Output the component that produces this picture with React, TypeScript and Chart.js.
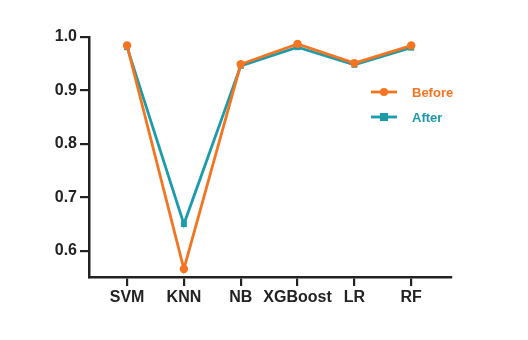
import React, { useEffect, useRef } from "react";
import { Chart, registerables } from "chart.js";

Chart.register(...registerables);

const categories = ["SVM", "KNN", "NB", "XGBoost", "LR", "RF"];
const beforeValues = [0.984, 0.566, 0.949, 0.987, 0.951, 0.984];
const afterValues = [0.981, 0.65, 0.946, 0.981, 0.948, 0.98];
const yTicks = [0.6, 0.7, 0.8, 0.9, 1.0];
const seriesNames = ["Before", "After"];

const ORANGE = "#F47521";
const TEAL = "#1C9BAB";
const AXIS = "#222222";
const FONT = "'Liberation Sans', Arial, sans-serif";

const legendPlugin = {
  id: "customLegend",
  afterDraw(chart: any) {
    const ctx = chart.ctx;
    const items = [
      { label: seriesNames[0], color: ORANGE, shape: "circle" },
      { label: seriesNames[1], color: TEAL, shape: "square" },
    ];
    const x0 = 371;
    const y0 = 92;
    const gap = 25;
    ctx.save();
    items.forEach((it, i) => {
      const y = y0 + i * gap;
      ctx.strokeStyle = it.color;
      ctx.fillStyle = it.color;
      ctx.lineWidth = 2.8;
      ctx.beginPath();
      ctx.moveTo(x0, y);
      ctx.lineTo(x0 + 26, y);
      ctx.stroke();
      const cx = x0 + 13;
      if (it.shape === "circle") {
        ctx.beginPath();
        ctx.arc(cx, y, 4, 0, Math.PI * 2);
        ctx.fill();
      } else {
        ctx.fillRect(cx - 4, y - 4, 8, 8);
      }
      ctx.font = `bold 13px ${FONT}`;
      ctx.textBaseline = "middle";
      ctx.textAlign = "left";
      ctx.fillText(it.label, x0 + 41, y + 1);
    });
    ctx.restore();
  },
};

export default function App() {
  const ref = useRef<HTMLCanvasElement>(null);
  useEffect(() => {
    if (!ref.current) return;
    const chart = new Chart(ref.current, {
      type: "line",
      data: {
        datasets: [
          {
            label: seriesNames[0],
            data: beforeValues.map((v, i) => ({ x: i, y: v })),
            borderColor: ORANGE,
            backgroundColor: ORANGE,
            borderWidth: 2.8,
            pointStyle: "circle",
            pointRadius: 4.2,
            pointBorderWidth: 0,
            pointBackgroundColor: ORANGE,
            clip: false as any,
          },
          {
            label: seriesNames[1],
            data: afterValues.map((v, i) => ({ x: i, y: v })),
            borderColor: TEAL,
            backgroundColor: TEAL,
            borderWidth: 2.8,
            pointStyle: "rect",
            pointRadius: 4.2,
            pointBorderWidth: 0,
            pointBackgroundColor: TEAL,
            clip: false as any,
          },
        ],
      },
      options: {
        animation: false,
        responsive: false,
        maintainAspectRatio: false,
        layout: { padding: { left: 0, top: 37, right: 77, bottom: 0 } },
        plugins: { legend: { display: false }, tooltip: { enabled: false } },
        scales: {
          x: {
            type: "linear",
            min: -0.67,
            max: 5.7,
            afterBuildTicks: (s: any) => {
              s.ticks = categories.map((_, i) => ({ value: i }));
            },
            afterFit: (s: any) => {
              s.height = 63;
            },
            ticks: {
              callback: (v: any) => categories[v as number],
              color: AXIS,
              font: { family: FONT, size: 16, weight: "bold" },
              padding: 2,
              maxRotation: 0,
              autoSkip: false,
            },
            grid: {
              drawOnChartArea: false,
              drawTicks: true,
              tickLength: 9,
              color: AXIS,
              lineWidth: 2.2,
            },
            border: { display: true, color: AXIS, width: 2.5 },
          },
          y: {
            type: "linear",
            min: 0.551,
            max: 1.0,
            afterBuildTicks: (s: any) => {
              s.ticks = yTicks.map((v) => ({ value: v }));
            },
            afterFit: (s: any) => {
              s.width = 89;
            },
            ticks: {
              callback: (v: any) => Number(v).toFixed(1),
              color: AXIS,
              font: { family: FONT, size: 16, weight: "bold" },
              padding: 3,
            },
            grid: {
              drawOnChartArea: false,
              drawTicks: true,
              tickLength: 9,
              color: AXIS,
              lineWidth: 2.2,
            },
            border: { display: true, color: AXIS, width: 2.5 },
          },
        },
      },
      plugins: [legendPlugin],
    });
    return () => chart.destroy();
  }, []);
  return (
    <div style={{ position: "fixed", left: 0, top: 0, width: 528, height: 340, background: "#fff" }}>
      <canvas ref={ref} width={528} height={340} style={{ width: 528, height: 340 }} />
    </div>
  );
}
